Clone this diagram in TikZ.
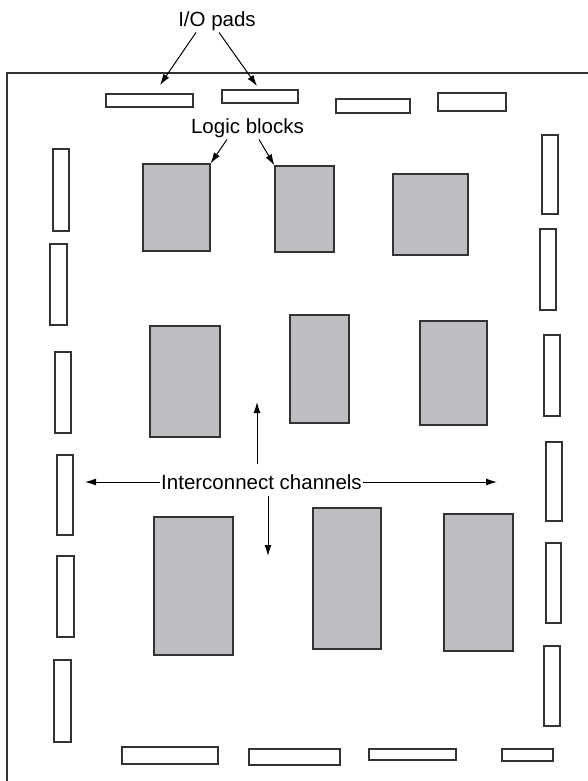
\documentclass[tikz,border=0pt]{standalone}
\usepackage{fontspec}
\setmainfont{Liberation Sans}
\usepackage{tikz}
\usetikzlibrary{positioning,arrows.meta,fit,calc}
\definecolor{edge}{HTML}{333333}
\definecolor{blockfill}{HTML}{BDBEC2}

\begin{document}
\begin{tikzpicture}[
  x=1pt,y=-1pt,
  font=\fontsize{20.5}{24}\selectfont,
  pad/.style={draw=edge,line width=1.1pt,fill=white,inner sep=0pt},
  blk/.style={draw=edge,line width=1.2pt,fill=blockfill,inner sep=0pt},
  lbl/.style={inner sep=1pt},
  lnk/.style={-{Latex[length=11pt,width=7pt]},black,line width=1pt}
]
\useasboundingbox (0,0) rectangle (588,781);
% chip outline
\draw[edge,line width=1.2pt] (588,73) -| (7,781);

% I/O pads, top row
\node[pad,fit={(106,94) (193,107)}] (t1) {};
\node[pad,fit={(222,90) (298,103)}] (t2) {};
\node[pad,fit={(336,99) (410,113)}] (t3) {};
\node[pad,fit={(438,93) (506,111)}] (t4) {};
% left column
\node[pad,fit={(53,149) (69,231)}]  (l1) {};
\node[pad,fit={(50,244) (67,325)}]  (l2) {};
\node[pad,fit={(55,352) (71,433)}]  (l3) {};
\node[pad,fit={(57,455) (73,535)}]  (l4) {};
\node[pad,fit={(57,556) (74,637)}]  (l5) {};
\node[pad,fit={(54,660) (71,742)}]  (l6) {};
% right column
\node[pad,fit={(542,135) (558,214)}] (r1) {};
\node[pad,fit={(540,229) (556,310)}] (r2) {};
\node[pad,fit={(544,335) (560,416)}] (r3) {};
\node[pad,fit={(546,442) (562,521)}] (r4) {};
\node[pad,fit={(546,543) (561,623)}] (r5) {};
\node[pad,fit={(544,646) (560,726)}] (r6) {};
% bottom row
\node[pad,fit={(122,747) (218,764)}] (b1) {};
\node[pad,fit={(249,749) (340,765)}] (b2) {};
\node[pad,fit={(369,749) (456,760)}] (b3) {};
\node[pad,fit={(502,749) (553,761)}] (b4) {};

% logic blocks
\node[blk,fit={(143,164) (210,251)}] (blk11) {};
\node[blk,fit={(275,166) (334,252)}] (blk12) {};
\node[blk,fit={(393,174) (468,255)}] (blk13) {};
\node[blk,fit={(150,326) (220,437)}] (blk21) {};
\node[blk,fit={(290,315) (349,423)}] (blk22) {};
\node[blk,fit={(420,321) (487,425)}] (blk23) {};
\node[blk,fit={(154,517) (233,655)}] (blk31) {};
\node[blk,fit={(313,508) (381,649)}] (blk32) {};
\node[blk,fit={(444,514) (513,651)}] (blk33) {};

% labels
\node[lbl,anchor=base] (iop) at (217,27) {I/O pads};
\node[lbl,anchor=base] (lgb) at (247.5,134) {Logic blocks};
\node[lbl] (ich) at (261.5,482) {Interconnect channels};

% arrow ends
\coordinate (iotip1) at (160,85);
\coordinate (iotip2) at (257,86);
\coordinate (chleft)  at (85,482);
\coordinate (chright) at (497,482);
\coordinate (chup)    at (257,402);
\coordinate (chdown)  at (268,556);

\draw[lnk] ([xshift=-21pt]iop.south) -- (iotip1);
\draw[lnk] ([xshift=2pt]iop.south) -- (iotip2);
\draw[lnk] ([xshift=-20.5pt]lgb.south) -- (blk11.north east);
\draw[lnk] ([xshift=11.5pt]lgb.south) -- (blk12.north west);
\draw[lnk] (ich.west) -- (chleft);
\draw[lnk] (ich.east) -- (chright);
\draw[lnk] ([shift={(-4.5,-9)}]ich.north) -- (chup);
\draw[lnk] ([shift={(6.5,5)}]ich.south) -- (chdown);
\end{tikzpicture}
\end{document}
